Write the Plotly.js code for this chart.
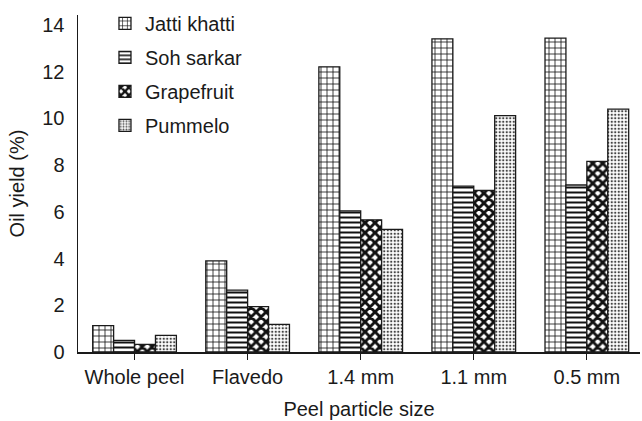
<!DOCTYPE html>
<html>
<head>
<meta charset="utf-8">
<script src="https://cdn.plot.ly/plotly-3.0.1.min.js"></script>
<style>html,body{margin:0;padding:0;background:#fff}#chart{width:642px;height:421px}</style>
</head>
<body>
<div id="chart"></div>
<script>
const categories = ["Whole peel", "Flavedo", "1.4 mm", "1.1 mm", "0.5 mm"];
const seriesNames = ["Jatti khatti", "Soh sarkar", "Grapefruit", "Pummelo"];
const jattiKhatti = [1.13, 3.9, 12.21, 13.41, 13.44];
const sohSarkar = [0.50, 2.65, 6.04, 7.10, 7.15];
const grapefruit = [0.33, 1.94, 5.66, 6.92, 8.16];
const pummelo = [0.71, 1.18, 5.25, 10.12, 10.40];
const yTicks = [0, 2, 4, 6, 8, 10, 12, 14];

const values = [jattiKhatti, sohSarkar, grapefruit, pummelo];
const patterns = [
  {shape: "+", size: 6, solidity: 0.25, fgcolor: "#111", bgcolor: "#fff"},
  {shape: "-", size: 5, solidity: 0.4, fgcolor: "#111", bgcolor: "#fff"},
  {shape: "x", size: 7, solidity: 0.65, fgcolor: "#111", bgcolor: "#fff"},
  {shape: ".", size: 3.5, solidity: 0.35, fgcolor: "#444", bgcolor: "#fff"}
];
const fontFam = "Liberation Sans, Arial, sans-serif";
const txt = {family: fontFam, size: 20, color: "#1a1a1a"};

const traces = seriesNames.map((name, i) => ({
  type: "bar",
  name: name,
  x: categories,
  y: values[i],
  legendgroup: "g" + i,
  marker: {
    color: "#fff",
    line: {color: "#1a1a1a", width: 1.3},
    pattern: patterns[i]
  }
}));

const layout = {
  width: 642, height: 421,
  margin: {l: 78, r: 2, t: 15, b: 69},
  paper_bgcolor: "#fff", plot_bgcolor: "#fff",
  barmode: "group", bargap: 0.26, bargroupgap: 0,
  font: txt,
  showlegend: true,
  legend: {
    x: 0.048, y: 1.033, xanchor: "left", yanchor: "top",
    bgcolor: "rgba(0,0,0,0)", font: txt,
    tracegroupgap: 5, itemwidth: 30
  },
  xaxis: {
    type: "category", range: [-0.5, 4.47],
    showline: true, linecolor: "#1a1a1a", linewidth: 1.5,
    ticks: "outside", ticklen: 6, tickcolor: "#1a1a1a", tickwidth: 1.2,
    showgrid: false, zeroline: false,
    tickfont: txt,
    title: {text: "Peel particle size", font: txt, standoff: 15}
  },
  yaxis: {
    range: [0, 14.43], tickvals: yTicks, ticktext: yTicks.map(String),
    showline: true, linecolor: "#1a1a1a", linewidth: 1.5,
    ticks: "", showgrid: false, zeroline: false, ticklabelstandoff: 8,
    tickfont: txt,
    title: {text: "Oil yield (%)", font: txt, standoff: 12}
  }
};

Plotly.newPlot("chart", traces, layout, {displayModeBar: false, staticPlot: true});
</script>
</body>
</html>
